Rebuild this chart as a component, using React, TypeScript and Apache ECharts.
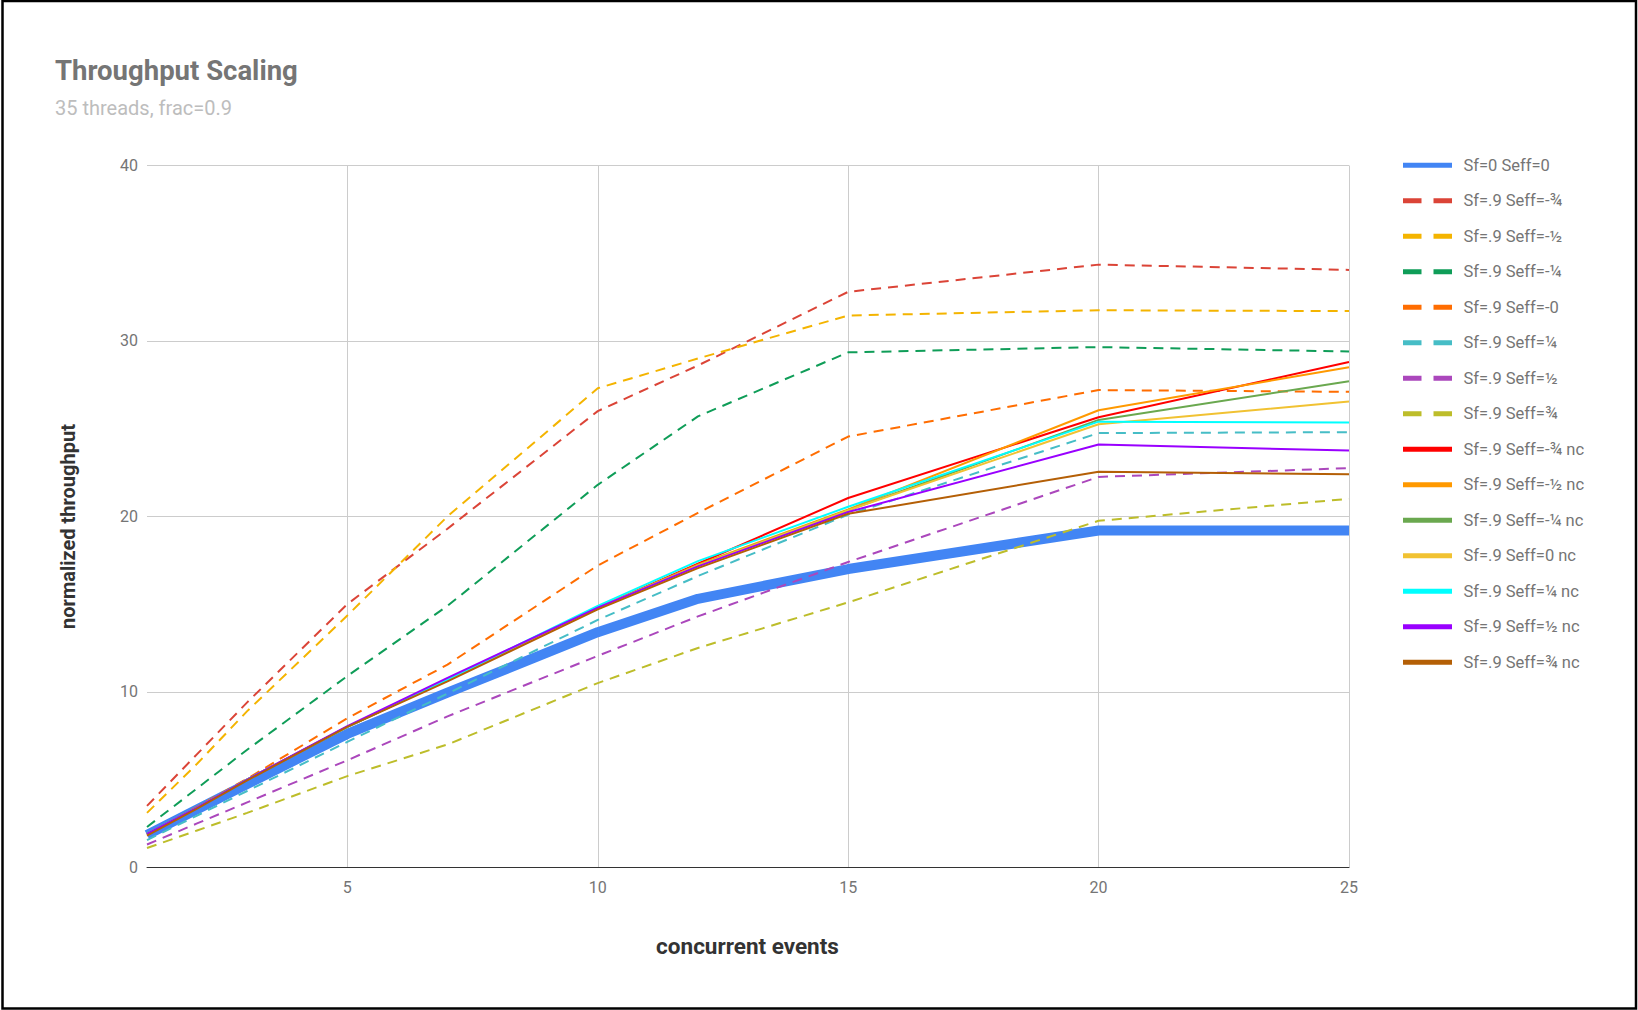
import React, { useEffect, useRef } from 'react';
import * as echarts from 'echarts';

const xValues = [1, 2, 3, 5, 7, 10, 12, 15, 20, 25];

const seriesNames = [
  'Sf=0 Seff=0',
  'Sf=.9 Seff=-¾',
  'Sf=.9 Seff=-½',
  'Sf=.9 Seff=-¼',
  'Sf=.9 Seff=-0',
  'Sf=.9 Seff=¼',
  'Sf=.9 Seff=½',
  'Sf=.9 Seff=¾',
  'Sf=.9 Seff=-¾ nc',
  'Sf=.9 Seff=-½ nc',
  'Sf=.9 Seff=-¼ nc',
  'Sf=.9 Seff=0 nc',
  'Sf=.9 Seff=¼ nc',
  'Sf=.9 Seff=½ nc',
  'Sf=.9 Seff=¾ nc',
];

const sf0 = [1.85, 3.3, 4.75, 7.6, 9.95, 13.4, 15.3, 17.0, 19.2, 19.2];
const dashM34 = [3.5, 6.45, 9.4, 15.0, 19.3, 26.0, 28.6, 32.8, 34.35, 34.05];
const dashM12 = [3.1, 5.9, 8.9, 14.35, 20.0, 27.3, 29.0, 31.45, 31.75, 31.7];
const dashM14 = [2.3, 4.5, 6.7, 10.9, 14.9, 21.8, 25.7, 29.35, 29.65, 29.4];
const dashZ0 = [1.85, 3.45, 5.05, 8.5, 11.55, 17.2, 20.2, 24.55, 27.2, 27.1];
const dashP14 = [1.55, 2.95, 4.35, 7.15, 9.9, 14.1, 16.6, 20.1, 24.75, 24.8];
const dashP12 = [1.3, 2.5, 3.7, 6.1, 8.6, 12.05, 14.3, 17.4, 22.25, 22.75];
const dashP34 = [1.1, 2.1, 3.1, 5.2, 7.0, 10.5, 12.5, 15.1, 19.75, 21.0];
const ncM34 = [1.9, 3.4, 5.0, 8.0, 10.7, 14.8, 17.3, 21.05, 25.65, 28.8];
const ncM12 = [1.9, 3.4, 5.0, 8.0, 10.7, 14.8, 17.25, 20.4, 26.05, 28.5];
const ncM14 = [1.9, 3.4, 5.0, 8.0, 10.7, 14.8, 17.2, 20.35, 25.5, 27.7];
const ncZ0 = [1.9, 3.4, 5.0, 8.0, 10.7, 14.8, 17.2, 20.35, 25.25, 26.55];
const ncP14 = [1.9, 3.4, 5.0, 8.0, 10.7, 14.9, 17.45, 20.55, 25.4, 25.35];
const ncP12 = [1.9, 3.4, 5.0, 8.05, 10.8, 14.8, 17.15, 20.25, 24.1, 23.75];
const ncP34 = [1.8, 3.35, 4.95, 8.0, 10.6, 14.7, 17.05, 20.15, 22.55, 22.4];

const seriesValues = [
  sf0, dashM34, dashM12, dashM14, dashZ0, dashP14, dashP12, dashP34,
  ncM34, ncM12, ncM14, ncZ0, ncP14, ncP12, ncP34,
];

const seriesColors = [
  '#4285F4', '#DB4437', '#F4B400', '#0F9D58', '#FF6D01', '#46BDC6', '#AB47BC', '#BDBD2A',
  '#FF0000', '#FF9900', '#6AA84F', '#F1C232', '#00FFFF', '#9900FF', '#B45F06',
];

const seriesDashed = [
  false, true, true, true, true, true, true, true,
  false, false, false, false, false, false, false,
];

const titleText = 'Throughput Scaling';
const subtitleText = '35 threads, frac=0.9';
const xAxisName = 'concurrent events';
const yAxisName = 'normalized throughput';

const FONT = 'Roboto';

export default function App() {
  const ref = useRef<HTMLDivElement>(null);

  useEffect(() => {
    if (!ref.current) return;
    const chart = echarts.init(ref.current, null, { renderer: 'svg' });

    const solidIcon = 'path://M0,0H49V5H0Z';
    const dashIcon = 'path://M0,0H18.5V5H0ZM30.5,0H49V5H30.5Z';

    const series = seriesNames.map((name, i) => ({
      name,
      type: 'line',
      data: xValues.map((x, j) => [x, seriesValues[i][j]]),
      showSymbol: false,
      symbol: 'none',
      color: seriesColors[i],
      silent: true,
      emphasis: { disabled: true },
      lineStyle: {
        color: seriesColors[i],
        width: i === 0 ? 10 : 2,
        type: seriesDashed[i] ? [10, 7] : 'solid',
        cap: 'butt',
      },
      z: 2,
    }));

    const legendFont = 16.5;

    const option: any = {
      animation: false,
      backgroundColor: '#ffffff',
      textStyle: { fontFamily: FONT },
      grid: {
        left: 147,
        right: 289,
        top: 165.5,
        bottom: 142.7,
        containLabel: false,
        outerBoundsMode: 'none',
      },
      xAxis: {
        type: 'value',
        min: 1,
        max: 25,
        splitNumber: 5,
        axisLine: { show: true, onZero: false, lineStyle: { color: '#333333', width: 1 } },
        axisTick: { show: false },
        axisLabel: {
          color: '#757575',
          fontSize: 16,
          fontFamily: FONT,
          margin: 12,
          showMinLabel: false,
          formatter: (v: number) => (v === 1 ? '' : String(v)),
        },
        splitLine: { show: true, showMinLine: false, lineStyle: { color: '#cccccc', width: 1 } },
      },
      yAxis: {
        type: 'value',
        min: 0,
        max: 40,
        interval: 10,
        axisLine: { show: false },
        axisTick: { show: false },
        axisLabel: { color: '#757575', fontSize: 16, fontFamily: FONT, margin: 9 },
        splitLine: { show: true, lineStyle: { color: '#cccccc', width: 1 } },
      },
      legend: {
        orient: 'vertical',
        left: 1403,
        top: 165 - legendFont / 2,
        padding: 0,
        itemWidth: 49,
        itemHeight: 5,
        itemGap: 18.5,
        selectedMode: false,
        itemStyle: { borderWidth: 0 },
        textStyle: { color: '#757575', fontSize: legendFont, fontFamily: FONT, padding: [0, 0, 0, 6.5] },
        data: seriesNames.map((n, i) => ({ name: n, icon: seriesDashed[i] ? dashIcon : solidIcon })),
      },
      graphic: [
        {
          type: 'rect',
          silent: true,
          shape: { x: 2.5, y: 1, width: 1633.5, height: 1007.5 },
          style: { fill: 'none', stroke: '#000000', lineWidth: 2.5 },
          z: 100,
        },
        {
          type: 'text',
          x: 55,
          y: 70,
          style: {
            text: titleText,
            fontFamily: FONT,
            fontSize: 27.5,
            fontWeight: 'bold',
            fill: '#757575',
            align: 'left',
            verticalAlign: 'middle',
          },
        },
        {
          type: 'text',
          x: 55,
          y: 108,
          style: {
            text: subtitleText,
            fontFamily: FONT,
            fontSize: 20,
            fill: '#bdbdbd',
            align: 'left',
            verticalAlign: 'middle',
          },
        },
        {
          type: 'text',
          x: 747.5,
          y: 945.5,
          style: {
            text: xAxisName,
            fontFamily: FONT,
            fontSize: 22.5,
            fontWeight: 'bold',
            fill: '#333333',
            align: 'center',
            verticalAlign: 'middle',
          },
        },
        {
          type: 'text',
          x: 67.5,
          y: 526.5,
          rotation: Math.PI / 2,
          style: {
            text: yAxisName,
            fontFamily: FONT,
            fontSize: 20,
            fontWeight: 'bold',
            fill: '#333333',
            align: 'center',
            verticalAlign: 'middle',
          },
        },
      ],
      series,
    };

    chart.setOption(option);
    return () => chart.dispose();
  }, []);

  return (
    <div
      ref={ref}
      style={{ position: 'fixed', left: 0, top: 0, width: 1638, height: 1010, background: '#ffffff' }}
    />
  );
}
